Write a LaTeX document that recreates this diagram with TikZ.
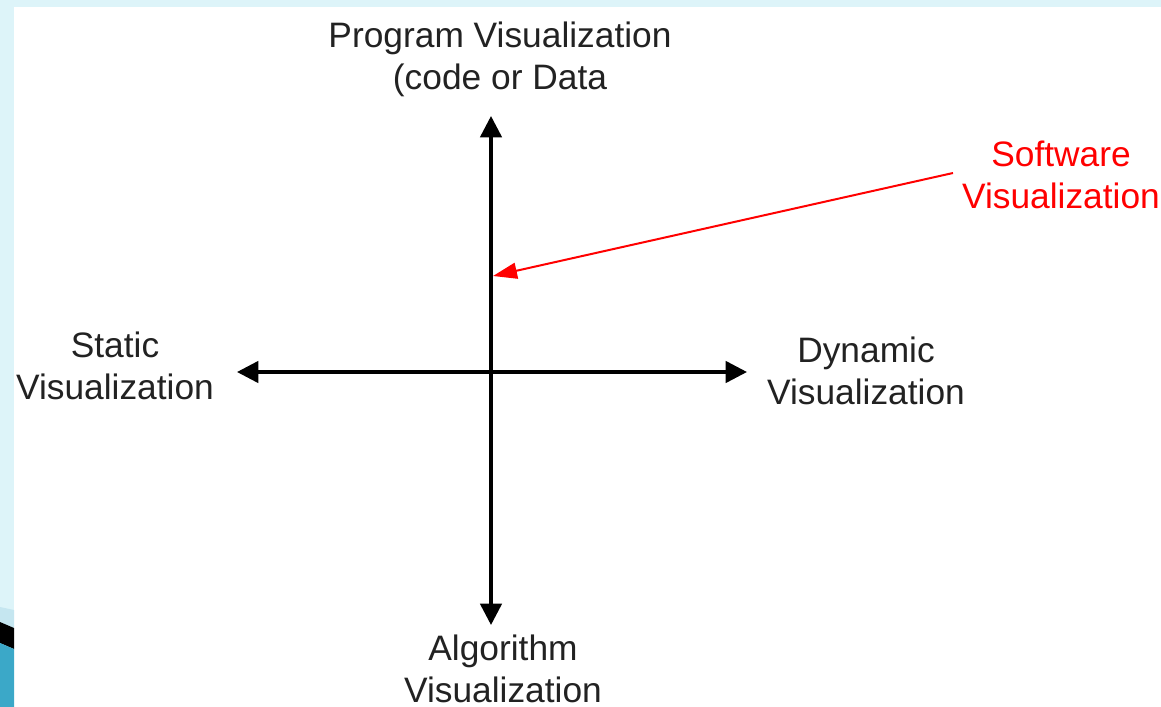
\documentclass[tikz,border=0pt]{standalone}
\usepackage{fontspec}
\setmainfont{Liberation Sans}
\usetikzlibrary{arrows.meta}
\definecolor{bgblue}{RGB}{221,244,249}
\definecolor{bandblue}{RGB}{197,230,240}
\definecolor{deepblue}{RGB}{59,168,200}
\definecolor{txt}{RGB}{34,34,34}
\definecolor{swred}{RGB}{255,0,0}
\begin{document}
\begin{tikzpicture}[x=0.75pt,y=-0.75pt,
  lbl/.style={font=\fontsize{26.5}{31.5}\selectfont, text=txt, align=center, inner sep=0pt, anchor=base},
  axis/.style={line width=2.6pt, draw=black, {Triangle[length=16pt,width=16pt]}-{Triangle[length=16pt,width=16pt]}},
  pointer/.style={line width=1.5pt, draw=swred, -{Triangle[length=18pt,width=12pt]}}]
\useasboundingbox (0,0) rectangle (1161,707);
\fill[bgblue] (0,0) rectangle (1161,707);
\fill[white] (14,7) rectangle (1161,707);
% bottom-left decoration
\fill[bandblue] (0,607) -- (14,610) -- (14,628) -- (0,622) -- cycle;
\fill[black] (0,622) -- (14,628) -- (14,649) -- (0,643) -- cycle;
\fill[deepblue] (0,643) -- (14,649) -- (14,707) -- (0,707) -- cycle;
% axes
\coordinate (top) at (491,116);
\coordinate (bot) at (491,625);
\coordinate (lft) at (237,372);
\coordinate (rgt) at (747,372);
\draw[axis] (top) -- (bot);
\draw[axis] (lft) -- (rgt);
% labels (anchor = baseline of the last line)
\node[lbl] (prog) at (500,89) {Program Visualization\\(code or Data};
\node[lbl, text=swred] (sw) at (1061,208) {Software\\Visualization};
\node[lbl] (stat) at (115,399) {Static\\Visualization};
\node[lbl] (dyn) at (866,404) {Dynamic\\Visualization};
\node[lbl] (alg) at (503,702) {Algorithm\\Visualization};
% red pointer
\coordinate (swtail) at (953,173);
\coordinate (swtip) at (493,276);
\draw[pointer] (swtail) -- (swtip);
\end{tikzpicture}
\end{document}
